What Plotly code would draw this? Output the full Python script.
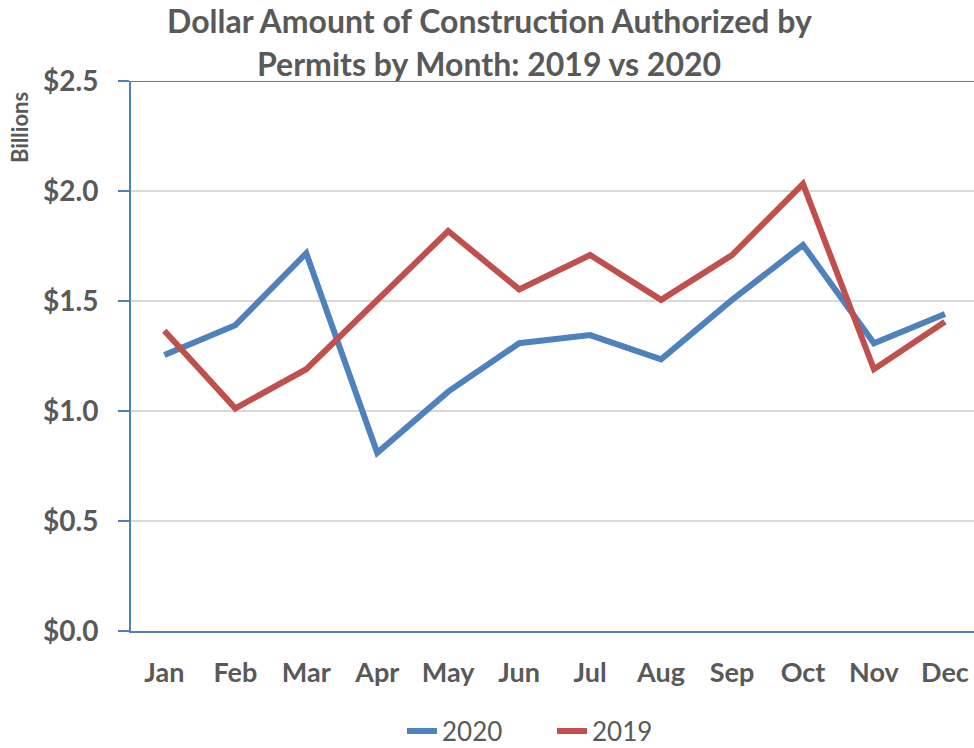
import plotly.graph_objects as go

months = ["Jan", "Feb", "Mar", "Apr", "May", "Jun", "Jul", "Aug", "Sep", "Oct", "Nov", "Dec"]
values_2020 = [1.255, 1.39, 1.717, 0.81, 1.088, 1.308, 1.345, 1.235, 1.505, 1.755, 1.308, 1.441]
values_2019 = [1.365, 1.012, 1.19, 1.5, 1.818, 1.553, 1.709, 1.505, 1.709, 2.032, 1.19, 1.406]
y_ticks = [0.0, 0.5, 1.0, 1.5, 2.0, 2.5]
y_tick_labels = ["$0.0", "$0.5", "$1.0", "$1.5", "$2.0", "$2.5"]
title_lines = ["Dollar Amount of Construction Authorized by", "Permits by Month: 2019 vs 2020"]

BLUE = "#4F81BD"
RED = "#C0504D"
GREY = "#595959"
FONT = "Lato, 'Open Sans', sans-serif"

W, H = 974, 748
L, R, T, B = 131, 0, 81, 117
PW, PH = W - L - R, H - T - B

def px_x(x):
    return (x - L) / PW

def px_y(y):
    return (H - B - y) / PH

fig = go.Figure()
fig.add_trace(go.Scatter(x=months, y=values_2020, name="2020", mode="lines",
                         line=dict(color=BLUE, width=6)))
fig.add_trace(go.Scatter(x=months, y=values_2019, name="2019", mode="lines",
                         line=dict(color=RED, width=6)))

fig.add_shape(type="line", xref="paper", yref="y", x0=0, x1=1, y0=2.5, y1=2.5,
              line=dict(color=BLUE, width=2), layer="above")

fig.add_annotation(text="<b>Billions</b>", xref="paper", yref="paper",
                   x=px_x(19), y=px_y(128), showarrow=False, textangle=-90,
                   font=dict(family=FONT, size=22, color=GREY),
                   xanchor="center", yanchor="middle")

for line_text, cy in zip(title_lines, [20, 63]):
    fig.add_annotation(text="<b>" + line_text + "</b>", xref="paper", yref="paper",
                       x=px_x(489), y=px_y(cy), showarrow=False,
                       font=dict(family=FONT, size=32, color=GREY),
                       xanchor="center", yanchor="middle", borderpad=0)

fig.update_layout(
    width=W, height=H,
    margin=dict(l=L, r=R, t=T, b=B, autoexpand=False),
    paper_bgcolor="white", plot_bgcolor="white",
    font=dict(family=FONT, color=GREY),
    showlegend=True,
    legend=dict(orientation="h", x=px_x(402), xanchor="left", yref="container",
                y=1 - 731 / H, yanchor="middle", entrywidth=105, entrywidthmode="pixels",
                borderwidth=0, font=dict(family=FONT, size=26, color=GREY)),
    xaxis=dict(type="category", range=[-0.47, 11.41], showgrid=False, automargin=False,
               showline=True, linecolor=BLUE, linewidth=2, ticks="",
               tickfont=dict(family=FONT, size=27, color=GREY, weight="bold"),
               ticklabelstandoff=17, zeroline=False),
    yaxis=dict(range=[0, 2.5], tickvals=y_ticks, ticktext=y_tick_labels, automargin=False,
               showgrid=True, gridcolor="#D9D9D9", gridwidth=2,
               showline=True, linecolor=BLUE, linewidth=2,
               ticks="outside", ticklen=11, tickcolor=BLUE, tickwidth=2,
               tickfont=dict(family=FONT, size=28, color=GREY, weight="bold"),
               ticklabelstandoff=14, zeroline=False),
)

fig.write_html("out.html", config={"displayModeBar": False},
               post_script="document.body.style.margin='0';document.body.style.padding='0';document.body.style.overflow='hidden';")
